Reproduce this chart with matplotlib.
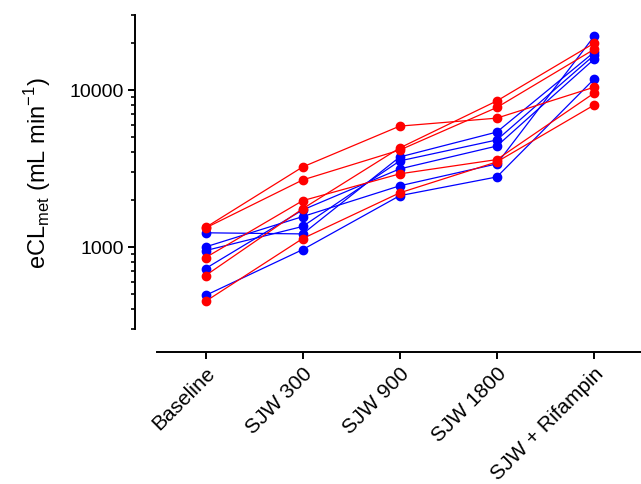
import matplotlib
matplotlib.use("Agg")
import matplotlib.pyplot as plt
from matplotlib.ticker import LogLocator, FuncFormatter, NullFormatter

plt.rcParams['font.family'] = ['Liberation Sans', 'DejaVu Sans']

# Data (one row per subject)
categories = ['Baseline', 'SJW 300', 'SJW 900', 'SJW 1800', 'SJW + Rifampin']

red_subjects = [
    [1330, 3230, 5880, 6610, 10400],
    [1320, 2670, 4140, 7730, 18100],
    [855, 1970, 2920, 3600, 9530],
    [657, 1750, 4270, 8510, 19800],
    [450, 1130, 2210, 3480, 8000],
]

blue_subjects = [
    [1230, 1210, 3740, 5390, 17350],
    [1000, 1560, 2450, 3380, 21900],
    [947, 1350, 3530, 4800, 16600],
    [728, 1720, 3140, 4390, 15660],
    [491, 961, 2120, 2790, 11700],
]

fig = plt.figure(figsize=(6.41, 4.85), dpi=100)
ax = fig.add_axes([157 / 641, 155 / 485, 485.5 / 641, 314 / 485])

# offset axes, Prism style (do this before touching ticks, it resets them)
for side in ['top', 'right']:
    ax.spines[side].set_visible(False)
ax.spines['left'].set_position(('outward', 16))
ax.spines['bottom'].set_position(('outward', 16.5))
for side in ['left', 'bottom']:
    ax.spines[side].set_linewidth(1.4)

x = range(len(categories))
for subj in blue_subjects:
    ax.plot(x, subj, color='#0000FF', lw=0.9, marker='o', ms=6, clip_on=False)
for subj in red_subjects:
    ax.plot(x, subj, color='#FF0000', lw=0.9, marker='o', ms=6, clip_on=False)

ax.set_yscale('log')
ax.set_ylim(300, 30000)
ax.set_xlim(-0.5, 4.5)

ax.yaxis.set_major_locator(LogLocator(base=10))
ax.yaxis.set_minor_locator(LogLocator(base=10, subs=range(2, 10)))
ax.yaxis.set_major_formatter(FuncFormatter(lambda v, p: f'{v:g}'))
ax.yaxis.set_minor_formatter(NullFormatter())

ax.tick_params(axis='both', which='major', length=5, width=1.4, labelsize=14, pad=3)
ax.tick_params(axis='y', which='minor', length=3, width=1.2)
ax.tick_params(axis='x', which='minor', length=0)

ax.set_xticks(list(x))
ax.set_xticklabels(categories, rotation=45, ha='right', rotation_mode='anchor', fontsize=15)

ax.set_ylabel(r'eCL$_{\mathregular{met}}$ (mL min$^{\mathregular{-1}}$)', fontsize=17, labelpad=12)

fig.savefig('out.png', dpi=100)
